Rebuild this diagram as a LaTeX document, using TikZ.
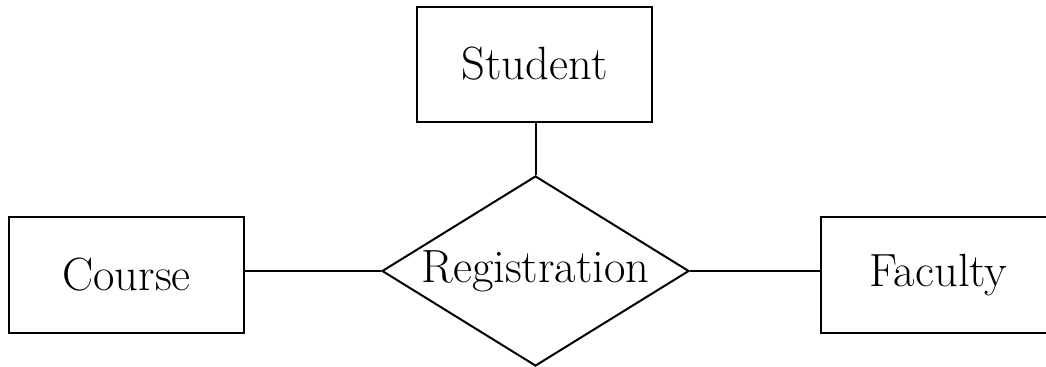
\documentclass[tikz,border=0pt]{standalone}
\usetikzlibrary{shapes.geometric}
\begin{document}
\begin{tikzpicture}[x=0.5pt,y=-0.5pt,line width=1pt,
  entity/.style={draw, rectangle, inner sep=0pt, minimum width=117.5pt, minimum height=57.5pt, font=\fontsize{23.3}{28}\selectfont},
  relation/.style={draw, diamond, inner sep=0pt, aspect=1.616, minimum width=153.5pt, minimum height=95pt, font=\fontsize{23.3}{28}\selectfont}]
  \useasboundingbox (0,0) rectangle (1046,366);
  \begin{scope}
    \clip (0,0) rectangle (1046,366);
    \node[entity] (student) at (534.5,64) {Student};
    \node[entity, minimum height=58pt] (course) at (126.5,275) {Course};
    \node[entity, minimum height=58pt] (faculty) at (938.5,275) {Faculty};
    \node[relation] (reg) at (535.5,271) {Registration};
    \draw (student.south -| reg.north) -- (reg.north);
    \draw (reg.west) -- (course.east |- reg.west);
    \draw (reg.east) -- (faculty.west |- reg.east);
  \end{scope}
\end{tikzpicture}
\end{document}
